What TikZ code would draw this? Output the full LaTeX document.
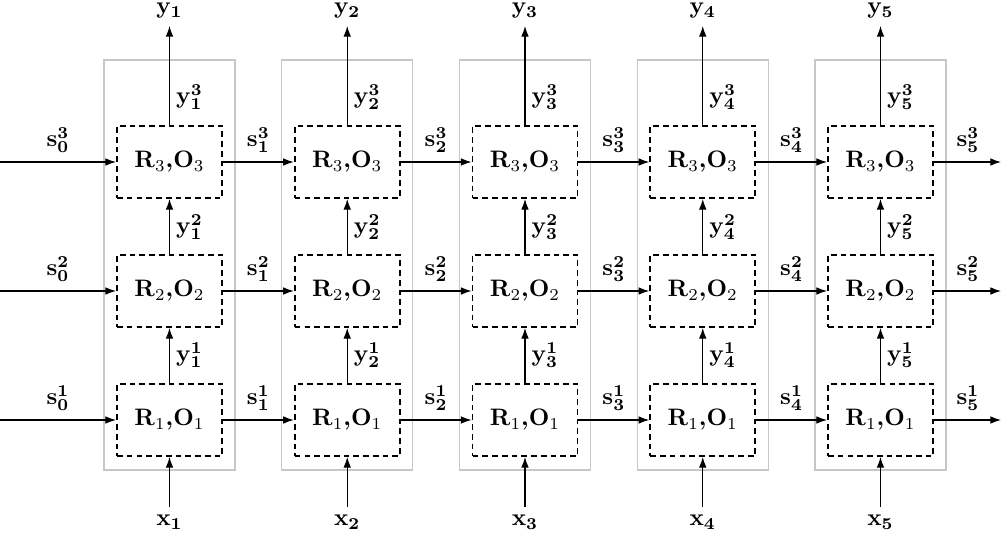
\documentclass[tikz,border=0pt]{standalone}
\usetikzlibrary{arrows.meta}
\begin{document}
\begin{tikzpicture}[x=0.42pt,y=-0.42pt,
  cell/.style={draw,thick,dash pattern=on 2.4pt off 1.7pt,minimum width={105*0.42pt},minimum height={72*0.42pt},inner sep=0pt,font=\normalsize},
  grp/.style={draw=black!22,line width=0.5pt,minimum width={131*0.42pt},minimum height={410*0.42pt},inner sep=0pt},
  arr/.style={-{Latex[length=4.5pt,width=3.2pt]},line width=0.45pt},
  lab/.style={inner sep=1pt}]
\useasboundingbox (0,0) rectangle (1002,534);
\foreach \i in {1,...,5}{
  \pgfmathsetmacro{\cx}{169.5+177.75*(\i-1)}
  \node[grp] (g\i) at (\cx,265) {};
  \node[cell] (b\i3) at (\cx,162) {\textbf{R}$_3$\textbf{,O}$_3$};
  \node[cell] (b\i2) at (\cx,291) {\textbf{R}$_2$\textbf{,O}$_2$};
  \node[cell] (b\i1) at (\cx,420) {\textbf{R}$_1$\textbf{,O}$_1$};
  \node[lab] (y\i) at (\cx,11) {$\mathbf{y_{\i}}$};
  \node[lab] (x\i) at (\cx,522) {$\mathbf{x_{\i}}$};
  \coordinate (yt\i) at (\cx,26);
  \coordinate (xb\i) at (\cx,507);
  \draw[arr] (b\i3.north) -- (yt\i);
  \draw[arr] (xb\i) -- (b\i1.south);
  \draw[arr] (b\i1.north) -- (b\i2.south);
  \draw[arr] (b\i2.north) -- (b\i3.south);
  \node[lab] at (\cx+20,97) {$\mathbf{y_{\i}^3}$};
  \node[lab] at (\cx+20,227) {$\mathbf{y_{\i}^2}$};
  \node[lab] at (\cx+20,355) {$\mathbf{y_{\i}^1}$};
}
\foreach \r/\yy in {3/162,2/291,1/420}{
  \coordinate (in\r) at (0,\yy);
  \coordinate (out\r) at (1001,\yy);
  \draw[arr] (in\r) -- (b1\r.west);
  \node[lab] at (58,\yy-22) {$\mathbf{s_{0}^{\r}}$};
  \foreach \i [evaluate=\i as \j using int(\i+1)] in {1,...,4}{
    \draw[arr] (b\i\r.east) -- (b\j\r.west);
    \path (b\i\r.east) -- (b\j\r.west) node[midway,lab,yshift=22*0.42pt] {$\mathbf{s_{\i}^{\r}}$};
  }
  \draw[arr] (b5\r.east) -- (out\r);
  \node[lab] at (968,\yy-22) {$\mathbf{s_{5}^{\r}}$};
}
\end{tikzpicture}
\end{document}
